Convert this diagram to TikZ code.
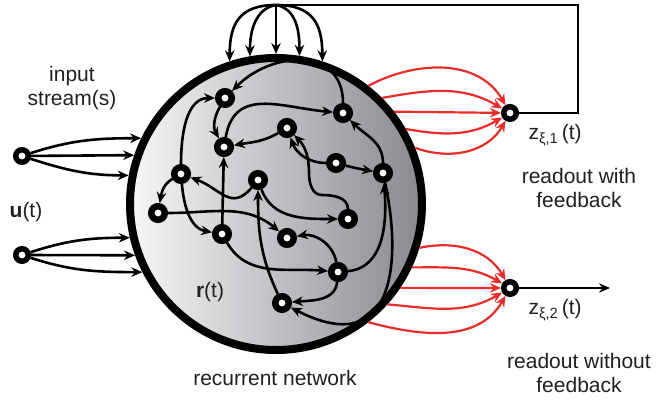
\documentclass[tikz,border=0pt]{standalone}
\usepackage{fontspec}
\setmainfont{Liberation Sans}
\usepackage{tikz}
\usetikzlibrary{positioning,arrows.meta}
\definecolor{netred}{RGB}{232,45,40}
\definecolor{netlight}{RGB}{247,247,248}
\definecolor{netdark}{RGB}{136,138,143}
\definecolor{txtgray}{RGB}{35,31,32}

\begin{document}
\begin{tikzpicture}[
    x=1pt, y=1pt,
    font=\fontsize{21}{24}\selectfont,
    unit/.style={circle, draw, fill=white, line width=6.5pt, minimum size=13.5pt, inner sep=0pt},
    port/.style={unit, line width=5.5pt, minimum size=12.5pt},
    arr/.style={-{Stealth[length=11pt,width=9.5pt]}, line width=2.6pt},
    redarr/.style={arr, draw=netred, line width=2.2pt},
    lbl/.style={text=txtgray, align=center, inner sep=0pt}
  ]
  \useasboundingbox (0,0) rectangle (657,401);
  % the recurrent network
  \node[circle, draw, line width=8pt, minimum size=292pt, inner sep=0pt,
        left color=netlight, right color=netdark] (net) at (276,197) {};
  % inputs and readouts
  \node[port] (in1) at (22,245) {};
  \node[port] (in2) at (22,146) {};
  \node[port] (ro1) at (510,288) {};
  \node[port] (ro2) at (510,113) {};
  \coordinate (fbcorner) at (578,396);
  \coordinate (fbtop) at (276,396);
  \coordinate (outend) at (610,113);
  % input streams
  \draw[arr] (in1) to[out=18,in=180] (net.154);
  \draw[arr] (in1) -- (net.161);
  \draw[arr] (in1) to[out=-18,in=180] (net.169);
  \draw[arr] (in2) to[out=18,in=180] (net.193);
  \draw[arr] (in2) -- (net.200);
  \draw[arr] (in2) to[out=-18,in=180] (net.207);
  % readout weights
  \draw[redarr] (net.52) to[out=28,in=120] (ro1);
  \draw[redarr] (net.45) to[out=10,in=150] (ro1);
  \draw[redarr] (net.38) -- (ro1);
  \draw[redarr] (net.30) to[out=-10,in=210] (ro1);
  \draw[redarr] (net.22) to[out=-20,in=240] (ro1);
  \draw[redarr] (net.343) to[out=12,in=120] (ro2);
  \draw[redarr] (net.335) to[out=0,in=150] (ro2);
  \draw[redarr] (net.326) -- (ro2);
  \draw[redarr] (net.318) to[out=-5,in=210] (ro2);
  \draw[redarr] (net.308) to[out=-15,in=240] (ro2);
  % feedback loop and output
  \draw[line width=2.6pt] (ro1) -| (fbcorner) -- (fbtop);
  \draw[arr] (fbtop) to[out=180,in=90,looseness=1.3] (net.108);
  \draw[arr] (fbtop) to[out=190,in=90] (net.100);
  \draw[arr] (fbtop) -- (net.90);
  \draw[arr] (fbtop) to[out=-10,in=90] (net.81);
  \draw[arr] (fbtop) to[out=0,in=90,looseness=1.3] (net.72);
  \draw[arr] (ro2) -- (outend);
  % units of the network
  \node[unit] (n1) at (225,303) {};
  \node[unit] (n2) at (224,254) {};
  \node[unit] (n3) at (343,288) {};
  \node[unit] (n4) at (287,273) {};
  \node[unit] (n5) at (336,238) {};
  \node[unit] (n6) at (383,228) {};
  \node[unit] (n7) at (181,227) {};
  \node[unit] (n8) at (258,221) {};
  \node[unit] (n9) at (158,188) {};
  \node[unit] (n10) at (222,167) {};
  \node[unit] (n11) at (287,163) {};
  \node[unit] (n12) at (348,182) {};
  \node[unit] (n13) at (338,129) {};
  \node[unit] (n14) at (282,98) {};
  \coordinate (w1) at (322,206);
  \coordinate (w2) at (309,228);
  % recurrent connections
  \draw[arr] (n3) to[out=90,in=45,looseness=1.3] (n1);
  \draw[arr] (n1) to[out=240,in=120] (n2);
  \draw[arr] (n7) to[out=90,in=180] (n1);
  \draw[arr] (n2) to[out=80,in=175,looseness=1.2] (n3);
  \draw[arr] (n4) to[out=210,in=10] (n2);
  \draw[arr] (n5) to[out=180,in=-70] (n4);
  \draw[arr] (n5) to[out=-15,in=170] (n6);
  \draw[arr] (n6) to[out=90,in=-45] (n3);
  \draw[arr] (n12) to[out=90,in=0] (w1) to[out=180,in=-90] (w2) to[out=90,in=-45] (n4);
  \draw[arr] (n7) to[out=210,in=80] (n9);
  \draw[arr] (n8) to[out=230,in=-20,looseness=1.3] (n7);
  \draw[arr] (n7) to[out=-85,in=170] (n10);
  \draw[arr] (n10) -- (n2);
  \draw[arr] (n9) to[out=0,in=140] (n11);
  \draw[arr] (n8) to[out=-70,in=180] (n12);
  \draw[arr] (n14) to[out=115,in=-90] (n8);
  \draw[arr] (n10) to[out=-60,in=175] (n13);
  \draw[arr] (n13) to[out=100,in=10] (n11);
  \draw[arr] (n13) to[out=-95,in=5] (n14);
  \draw[arr] (n13) to[out=5,in=-85] (n6);
  \draw[arr] (n6) .. controls (402,140) and (395,40) .. (n14);
  % labels
  \node[lbl] (instr) at (72,313) {input\\stream(s)};
  \node[lbl] (ulab) at (26,189) {\textbf{u}(t)};
  \node[lbl] (rlab) at (210,109) {\textbf{r}(t)};
  \node[lbl] (netlab) at (275,23) {recurrent network};
  \node[lbl, below right=5pt and 12pt of ro1] (zlab1) {z\textsubscript{ξ,1}\,(t)};
  \node[lbl] (rdlab1) at (579,213) {readout with\\feedback};
  \node[lbl, below right=5pt and 12pt of ro2] (zlab2) {z\textsubscript{ξ,2}\,(t)};
  \node[lbl] (rdlab2) at (579,28) {readout without\\feedback};
\end{tikzpicture}
\end{document}
